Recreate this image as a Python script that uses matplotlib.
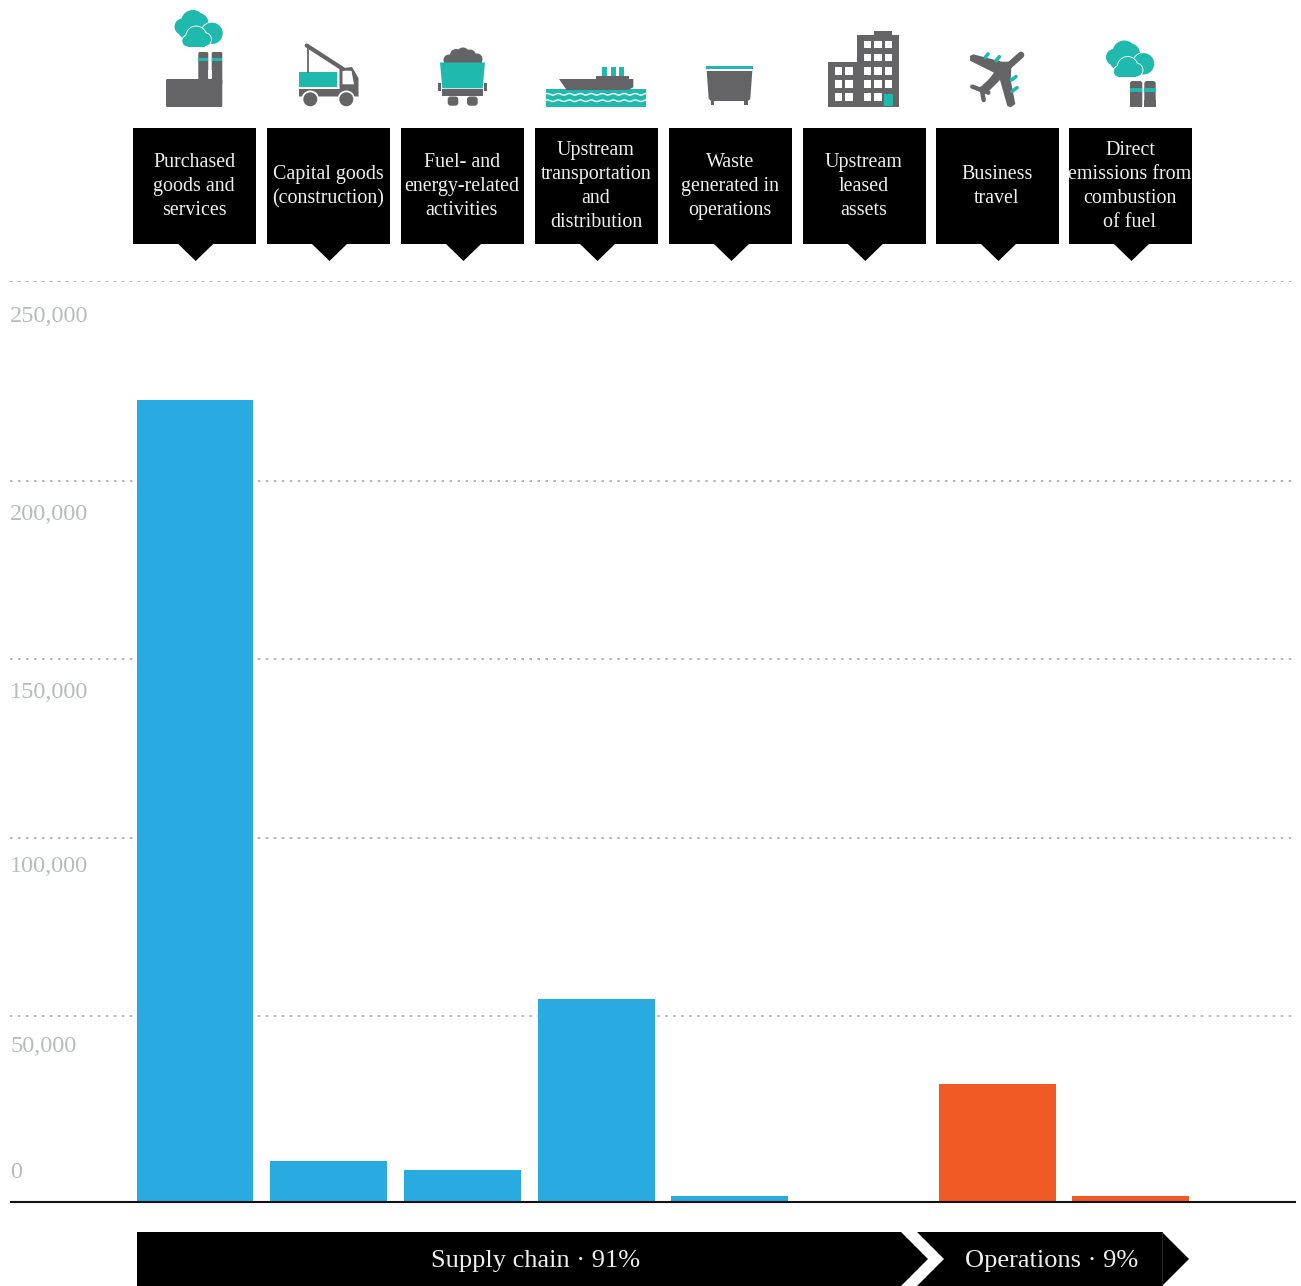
import numpy as np
import matplotlib
matplotlib.use("Agg")
import matplotlib.pyplot as plt
from matplotlib.patches import Circle, FancyBboxPatch, Polygon, Rectangle

plt.rcParams['font.family'] = ['Liberation Serif', 'DejaVu Serif']

# emissions per category
categories = ["Purchased\ngoods and\nservices", "Capital goods\n(construction)",
              "Fuel- and\nenergy-related\nactivities",
              "Upstream\ntransportation\nand\ndistribution",
              "Waste\ngenerated in\noperations", "Upstream\nleased\nassets",
              "Business\ntravel", "Direct\nemissions from\ncombustion\nof fuel"]
values = [220300, 11000, 8500, 54500, 1350, 0, 31500, 1350]
bar_colors = ["#29abe2"] * 6 + ["#f15a24"] * 2
tick_values = [0, 50000, 100000, 150000, 200000, 250000]
tick_labels = ["0", "50,000", "100,000", "150,000", "200,000", "250,000"]

# the printed axis is not evenly spaced, so each tick gets its own height
tick_heights = [0, 186, 364, 542, 720, 920]

GRAY = "#646466"
TEAL = "#20b9ae"

fig = plt.figure(figsize=(13.01, 12.86), dpi=100)

# overlay in pixel units for the icons, callouts and banners
ov = fig.add_axes([0, 0, 1, 1], zorder=3)
ov.set_xlim(0, 1301)
ov.set_ylim(1286, 0)
ov.axis('off')

ax = fig.add_axes([10 / 1301, (1286 - 1201.5) / 1286, 1286 / 1301, 920 / 1286], zorder=1)
ax.set_yscale('function', functions=(
    lambda v: np.interp(v, tick_values, tick_heights),
    lambda h: np.interp(h, tick_heights, tick_values)))
ax.set_ylim(0, 250000)
ax.set_xlim(-1.3837, 8.2348)
ax.bar(range(len(values)), values, width=0.875, color=bar_colors, zorder=2)
ax.set_yticks(tick_values)
ax.set_yticklabels([])
ax.set_xticks([])
ax.tick_params(left=False)
ax.grid(axis='y', color="#b4b6b7", linewidth=1.4, linestyle=(0, (1.3, 2.81)), zorder=1)
for s in ['top', 'left', 'right']:
    ax.spines[s].set_visible(False)
ax.spines['bottom'].set_linewidth(1.5)
ax.spines['bottom'].set_color("#111111")
ax.spines['bottom'].set_capstyle('butt')

# tick labels sit just under their gridlines, apart from the zero
label_offsets = [-29, 31, 29, 33, 33, 35]
for h, lab, off in zip(tick_heights, tick_labels, label_offsets):
    ov.text(10, 1201 - h + off, lab, fontsize=17.5, color="#b8bbbd", ha='left', va='center')


def rect(x0, y0, x1, y1, color=GRAY, **kw):
    ov.add_patch(Rectangle((x0, y0), x1 - x0, y1 - y0, color=color, lw=0, **kw))


def poly(pts, color=GRAY):
    ov.add_patch(Polygon(pts, closed=True, color=color, lw=0))


def circ(x, y, r, color=GRAY, **kw):
    ov.add_patch(Circle((x, y), r, color=color, lw=0, **kw))


def rounded(x0, y0, x1, y1, r, color=GRAY):
    ov.add_patch(FancyBboxPatch((x0 + r, y0 + r), x1 - x0 - 2 * r, y1 - y0 - 2 * r,
                                boxstyle="round,pad=%g,rounding_size=%g" % (r, r),
                                color=color, lw=0))


def cloud(x, y):
    # x, y is the top left of a cloud about 50 wide and 36 high
    back = [(18.3, 11.7, 11.7), (24, 13, 10), (8.3, 16.7, 8.3), (12, 21, 8)]
    front = [(21.7, 26.5, 10), (13.3, 31, 5.5), (30, 29.5, 6.5)]
    for cx, cy, r in back:
        circ(x + cx, y + cy, r, TEAL)
    circ(x + 37.5, y + 23.3, 11.6, 'white')
    circ(x + 37.5, y + 23.3, 10.7, TEAL)
    for cx, cy, r in front:
        circ(x + cx, y + cy, r + 0.9, 'white')
    rect(x + 6, y + 36.5, x + 44, y + 39, 'white')
    rect(x + 13.3, y + 30, x + 30, y + 36.5, TEAL)
    for cx, cy, r in front:
        circ(x + cx, y + cy, r, TEAL)


def icon_factory():
    cloud(174.5, 10)
    rounded(166, 79, 222.3, 107, 1.5)
    rounded(198.3, 52, 208.3, 85, 1.5)
    rounded(211.7, 52, 222.3, 85, 1.5)
    rect(198.3, 57.5, 208.3, 60.5, TEAL)
    rect(211.7, 57.5, 222.3, 60.5, TEAL)
    rect(208.3, 70, 211.7, 78, 'white')


def icon_truck():
    ov.plot([306.7, 343], [45.5, 69], color=GRAY, lw=3, solid_capstyle='round')
    ov.plot([307.7, 307.7], [46, 72], color=GRAY, lw=1.3)
    rect(299, 72.3, 336.7, 87.3, TEAL)
    poly([(339.5, 68.5), (352, 67), (358.5, 78), (358.5, 96.5), (299, 96.5), (299, 89), (339.5, 89)])
    poly([(342.5, 70.7), (351.5, 70.7), (354, 84.3), (342.5, 84.3)], 'white')
    for cx in (310.3, 346.3):
        circ(cx, 99.3, 8.8, 'white')
        circ(cx, 99.3, 7)


def icon_wagon():
    for cx, cy, r in [(449, 60, 5.5), (456, 55, 6), (463, 54, 6.5), (470, 55.5, 6), (477, 59, 5.5)]:
        circ(cx, cy, r)
    rect(444, 58, 482, 63)
    poly([(440, 62.5), (485, 62.5), (482.7, 88.3), (442.3, 88.3)], TEAL)
    rect(442.3, 89.3, 482.7, 96)
    rect(438, 82.7, 440.7, 90.7)
    rect(484, 82.7, 486.7, 90.7)
    rounded(447.7, 96.5, 458.3, 105.7, 3)
    rounded(467, 96.5, 477.7, 105.7, 3)


def icon_ship():
    rect(546, 89.3, 646, 106.7, TEAL)
    poly([(559, 79), (633.3, 79), (633.3, 87.3), (628, 90), (566.7, 90)])
    rect(596, 76, 629, 79)
    for x0 in (602.3, 611, 619.3):
        rect(x0, 67.3, x0 + 5, 76, TEAL)
    xs = np.linspace(546, 646, 200)
    for y0 in (94.3, 100.7):
        ov.plot(xs, y0 + 0.8 * np.sin(xs * 2 * np.pi / 11), color='white', lw=1.0)


def icon_bin():
    rect(706, 66, 752.7, 69.3, TEAL)
    poly([(706.7, 71), (752.3, 71), (750.3, 99), (748, 101), (711, 101), (708.7, 99)])
    rect(711, 100, 714.3, 105.3)
    rect(744.3, 100, 747.7, 105.3)


def icon_building():
    rect(828, 61.7, 857, 106.7)
    rect(856.7, 35, 899, 106.7)
    rect(874.3, 31, 892.3, 36)
    rows = [40.7, 54, 67.3, 80.3, 93.3]
    for i, y0 in enumerate(rows):
        for x0 in (863.7, 874.3, 884.7):
            if i == 4 and x0 == 884.7:
                continue
            rect(x0, y0, x0 + 7.4, y0 + 7.4, 'white')
    for y0 in rows[2:]:
        for x0 in (834.7, 845.3):
            rect(x0, y0, x0 + 7.4, y0 + 7.4, 'white')
    rect(884.3, 93.7, 892.7, 106, TEAL)


def icon_plane():
    ox, oy = 920, 0
    # teal engines go underneath the wings
    for a, b in [((196, 172), (204, 162)), ((228, 182), (238, 170)),
                 ((274, 240), (288, 230)), ((276, 274), (291, 263))]:
        ov.plot([ox + a[0] / 3, ox + b[0] / 3], [a[1] / 3, b[1] / 3], color=TEAL, lw=2.6,
                solid_capstyle='round')
    wings = [(150, 168), (160, 163), (245, 185), (275, 185), (272, 240), (286, 312),
             (272, 322), (262, 318), (240, 240), (205, 275), (188, 262), (222, 218), (150, 182)]
    poly([(ox + x / 3, y / 3) for x, y in wings])
    ov.plot([ox + 303 / 3, ox + 195 / 3], [165 / 3, 262 / 3], color=GRAY, lw=4.8,
            solid_capstyle='round')
    ov.plot([ox + 157 / 3, ox + 205 / 3], [260 / 3, 278 / 3], color=GRAY, lw=3.2,
            solid_capstyle='round')
    ov.plot([ox + 185 / 3, ox + 191 / 3], [265 / 3, 300 / 3], color=GRAY, lw=3.2,
            solid_capstyle='round')


def icon_stacks():
    cloud(1106, 40.5)
    rounded(1130, 81, 1142.3, 107, 2.5)
    rounded(1144.3, 81, 1155.7, 107, 2.5)
    rect(1130, 100, 1142.3, 107)
    rect(1144.3, 100, 1155.7, 107)
    rect(1130, 88, 1142.3, 91.5, TEAL)
    rect(1144.3, 88, 1155.7, 91.5, TEAL)


for draw_icon in (icon_factory, icon_truck, icon_wagon, icon_ship, icon_bin,
                  icon_building, icon_plane, icon_stacks):
    draw_icon()

# black callouts above the bars
centers = [194.7, 328.5, 462.5, 596.5, 730.5, 864.3, 997.5, 1130.5]
for cx, label in zip(centers, categories):
    rect(cx - 61.5, 128, cx + 61.5, 244, 'black')
    poly([(cx - 16.5, 244), (cx + 18.5, 244), (cx + 1, 261)], 'black')
    lines = label.split("\n")
    for i, line in enumerate(lines):
        y = 186.5 + (i - (len(lines) - 1) / 2) * 24
        ov.text(cx - 0.6, y, line, color="#efefef", fontsize=14.4, ha='center', va='center')

# chevron banners under the axis
poly([(137, 1232), (901, 1232), (928, 1259), (901, 1286), (137, 1286)], 'black')
poly([(917, 1232), (1162, 1232), (1189, 1259), (1162, 1286), (917, 1286), (944, 1259)], 'black')
ov.plot([1162, 1162], [1232, 1286], color="#2a2a2a", lw=0.6)
ov.text(536, 1261.5, "Supply chain · 91%", color="#efefef", fontsize=19, ha='center', va='center')
ov.text(1051.5, 1261.5, "Operations · 9%", color="#efefef", fontsize=19, ha='center', va='center')

fig.savefig("out.png", dpi=100)
plt.close()
